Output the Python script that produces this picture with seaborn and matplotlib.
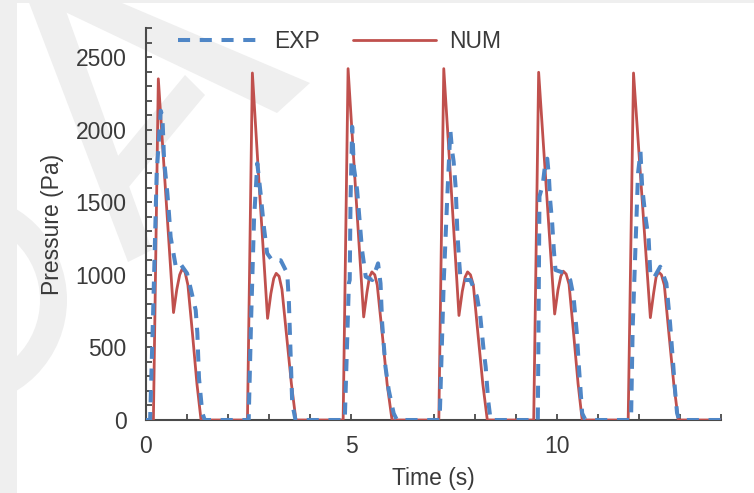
import matplotlib
matplotlib.use("Agg")
import matplotlib.pyplot as plt
import pandas as pd
import seaborn as sns
from matplotlib.patches import Polygon, Wedge
from matplotlib.ticker import MultipleLocator
from matplotlib.lines import Line2D
from matplotlib.transforms import IdentityTransform

# ---------------- data ----------------
num_time = [0.00,
            0.18, 0.30, 0.48, 0.67, 0.75, 0.82, 0.88, 0.95, 1.02, 1.13, 1.24, 1.34,
            2.47, 2.59, 2.77, 2.96, 3.04, 3.11, 3.17, 3.24, 3.31, 3.42, 3.54, 3.65,
            4.80, 4.92, 5.10, 5.30, 5.38, 5.44, 5.50, 5.57, 5.63, 5.75, 5.87, 5.99,
            7.13, 7.25, 7.43, 7.62, 7.70, 7.77, 7.83, 7.90, 7.97, 8.08, 8.20, 8.31,
            9.44, 9.56, 9.75, 9.95, 10.03, 10.10, 10.16, 10.23, 10.30, 10.41, 10.52, 10.62,
            11.74, 11.87, 12.07, 12.28, 12.36, 12.42, 12.48, 12.55, 12.62, 12.73, 12.85, 12.96,
            14.00]
num_pressure = [0,
                0, 2350, 1560, 740, 900, 1000, 1040, 1020, 930, 600, 250, 0,
                0, 2390, 1550, 700, 870, 975, 1010, 990, 900, 590, 250, 0,
                0, 2420, 1600, 710, 880, 985, 1020, 1000, 930, 600, 250, 0,
                0, 2420, 1600, 720, 885, 985, 1020, 1000, 930, 600, 250, 0,
                0, 2395, 1580, 730, 895, 990, 1025, 1005, 935, 600, 250, 0,
                0, 2390, 1560, 705, 875, 985, 1020, 1000, 930, 600, 250, 0,
                0]

exp_time = [0.00,
            0.10, 0.17, 0.26, 0.36, 0.40, 0.44, 0.52, 0.56, 0.60, 0.72, 0.80, 1.00, 1.21, 1.25, 1.29, 1.37, 1.43,
            2.50, 2.56, 2.63, 2.71, 2.79, 2.87, 2.95, 3.07, 3.28, 3.44, 3.48, 3.52, 3.56, 3.64,
            4.84, 4.94, 4.96, 4.98, 5.02, 5.06, 5.14, 5.18, 5.26, 5.35, 5.51, 5.65, 5.71, 5.75, 5.83, 5.91, 6.03, 6.11,
            7.15, 7.25, 7.33, 7.41, 7.45, 7.49, 7.54, 7.58, 7.62, 7.66, 7.90, 8.06, 8.14, 8.22, 8.27, 8.33, 8.39,
            9.54, 9.58, 9.66, 9.73, 9.77, 9.81, 9.84, 9.89, 9.93, 9.97, 10.21, 10.33, 10.41, 10.49, 10.54, 10.58, 10.62, 10.70,
            11.81, 11.85, 11.98, 12.04, 12.08, 12.16, 12.24, 12.28, 12.36, 12.52, 12.67, 12.76, 12.84, 12.88, 12.93, 12.98,
            14.00]
exp_pressure = [0,
                0, 700, 1700, 2130, 2090, 1790, 1560, 1420, 1260, 1065, 1090, 1010, 757, 600, 290, 50, 0,
                0, 700, 1380, 1768, 1560, 1330, 1148, 1100, 1100, 1010, 805, 460, 115, 0,
                0, 943, 964, 1515, 2020, 1745, 1584, 1446, 1171, 987, 964, 1079, 941, 666, 367, 207, 46, 0,
                0, 960, 1500, 1997, 1860, 1780, 1600, 1300, 1110, 964, 964, 849, 711, 482, 367, 138, 0,
                0, 1540, 1620, 1790, 1800, 1676, 1515, 1354, 1171, 1033, 1010, 964, 849, 597, 367, 207, 46, 0,
                0, 640, 1700, 1848, 1607, 1400, 1240, 1000, 976, 1056, 941, 666, 367, 207, 48, 0,
                0]

series_labels = ["EXP", "NUM"]
x_tick_values = [0, 5, 10]
y_tick_values = [0, 500, 1000, 1500, 2000, 2500]
x_label = "Time (s)"
y_label = "Pressure (Pa)"

num_df = pd.DataFrame({"t": num_time, "p": num_pressure})
exp_df = pd.DataFrame({"t": exp_time, "p": exp_pressure})

# ---------------- style ----------------
sns.set_theme(style="white")
plt.rcParams["font.family"] = ["Liberation Sans", "DejaVu Sans"]
TXT = "#3a3a3a"
AXC = "#4a4a4a"
BLUE = "#4f86c6"
RED = "#c0504d"
FS = 16.5

W, H = 754, 493
fig = plt.figure(figsize=(W / 100, H / 100), dpi=100)
fig.patch.set_facecolor("white")


def fx(x):
    return x / W


def fy(y):
    return 1 - y / H


# faint background watermark / frame
wm = "#efefef"
for poly in [
    [(0, 0), (17, 0), (17, H), (0, H)],
    [(0, 0), (W, 0), (W, 3), (0, 3)],
    [(28, 0), (62, 0), (152, 250), (128, 262)],
    [(40, 0), (115, 0), (310, 83), (277, 113)],
    [(108, 168), (128, 188), (205, 95), (185, 75)],
]:
    fig.add_artist(Polygon([(fx(a), fy(b)) for a, b in poly], closed=True,
                           transform=fig.transFigure, facecolor=wm,
                           edgecolor="none", zorder=-10))
arc = Wedge((-40, H - 300), 107, -90, 90, width=27, facecolor=wm,
            edgecolor="none", zorder=-10)
arc.set_transform(IdentityTransform())
fig.add_artist(arc)

ax = fig.add_axes([fx(146), fy(420), (721 - 146) / W, (420 - 28) / H])
ax.set_facecolor("none")

sns.lineplot(data=num_df, x="t", y="p", ax=ax, color=RED, linewidth=2.0,
             estimator=None, sort=False, zorder=3)
sns.lineplot(data=exp_df, x="t", y="p", ax=ax, color=BLUE, linewidth=2.9,
             estimator=None, sort=False, zorder=4)
exp_line = ax.lines[-1]
exp_line.set_dashes([3.0, 2.4])

ax.set_xlim(0, 14)
ax.set_ylim(0, 2700)
ax.set_xticks(x_tick_values)
ax.set_yticks(y_tick_values)
ax.xaxis.set_minor_locator(MultipleLocator(1))
ax.yaxis.set_minor_locator(MultipleLocator(100))
ax.tick_params(axis="both", which="both", direction="in", length=4.5,
               width=1.3, color=AXC, labelsize=FS, labelcolor=TXT,
               bottom=True, left=True, top=False, right=False)
ax.tick_params(axis="x", which="major", pad=11)
ax.tick_params(axis="y", which="major", pad=14)
for s in ["top", "right"]:
    ax.spines[s].set_visible(False)
for s in ["left", "bottom"]:
    ax.spines[s].set_color(AXC)
    ax.spines[s].set_linewidth(1.5)

ax.set_xlabel(x_label, fontsize=FS, color=TXT)
ax.set_ylabel(y_label, fontsize=FS, color=TXT)
ax.xaxis.set_label_coords(0.5, (420 - 490) / 392, transform=ax.transAxes)
ax.xaxis.label.set_va("bottom")
ax.yaxis.set_label_coords((64 - 146) / 575, 0.5)

handles = [Line2D([], [], color=BLUE, linewidth=2.9, dashes=[3.0, 2.4]),
           Line2D([], [], color=RED, linewidth=2.0)]
ax.legend(handles, series_labels, loc="center left", ncol=2, frameon=False,
          bbox_to_anchor=(fx(178), fy(42)), bbox_transform=fig.transFigure,
          borderaxespad=0, borderpad=0, handlelength=3.6, handletextpad=0.6,
          columnspacing=1.45, fontsize=FS, labelcolor=TXT)

fig.savefig("out.png", dpi=100, facecolor=fig.get_facecolor())
